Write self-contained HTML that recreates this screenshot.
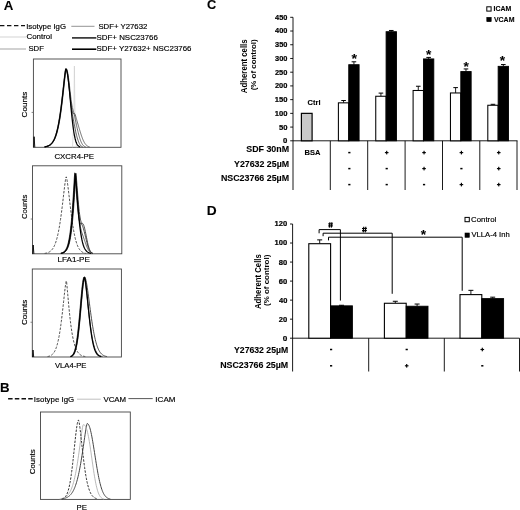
<!DOCTYPE html>
<html><head><meta charset="utf-8"><style>
html,body{margin:0;padding:0;background:#fff;width:520px;height:510px;overflow:hidden;}
body{position:relative;font-family:"Liberation Sans", sans-serif;}
</style></head><body>
<svg width="520" height="510" viewBox="0 0 520 510" style="position:absolute;left:0;top:0;filter:grayscale(1)">
<g style="font-family:'Liberation Sans', sans-serif">
<text x="3.67" y="9.80" font-size="12.5" font-weight="bold" fill="#000" stroke="#000" stroke-width="0.1" textLength="9.59" lengthAdjust="spacingAndGlyphs">A</text>
<path d="M0,25.6 L25,25.6" stroke="#111" stroke-width="1.4" fill="none" stroke-dasharray="4.4,2.6" stroke-linejoin="round" />
<text x="26.18" y="28.80" font-size="7.7" font-weight="normal" fill="#000" stroke="#000" stroke-width="0.17" textLength="39.82" lengthAdjust="spacingAndGlyphs">Isotype IgG</text>
<line x1="0.00" y1="37.00" x2="26.00" y2="37.00" stroke="#c8c8c8" stroke-width="0.8" />
<text x="26.50" y="39.40" font-size="7.7" font-weight="normal" fill="#000" stroke="#000" stroke-width="0.17" textLength="25.52" lengthAdjust="spacingAndGlyphs">Control</text>
<line x1="0.00" y1="49.00" x2="26.00" y2="49.00" stroke="#999" stroke-width="0.9" />
<text x="28.45" y="51.20" font-size="7.7" font-weight="normal" fill="#000" stroke="#000" stroke-width="0.17" textLength="15.46" lengthAdjust="spacingAndGlyphs">SDF</text>
<line x1="71.30" y1="26.30" x2="94.50" y2="26.30" stroke="#888" stroke-width="0.9" />
<text x="98.45" y="29.10" font-size="7.7" font-weight="normal" fill="#000" stroke="#000" stroke-width="0.17" textLength="48.85" lengthAdjust="spacingAndGlyphs">SDF+ Y27632</text>
<line x1="72.00" y1="37.90" x2="96.30" y2="37.90" stroke="#1a1a1a" stroke-width="1.5" />
<text x="96.54" y="40.00" font-size="7.7" font-weight="normal" fill="#000" stroke="#000" stroke-width="0.17" textLength="61.30" lengthAdjust="spacingAndGlyphs">SDF+ NSC23766</text>
<line x1="72.00" y1="49.20" x2="96.30" y2="49.20" stroke="#000" stroke-width="1.6" />
<text x="96.55" y="51.10" font-size="7.7" font-weight="normal" fill="#000" stroke="#000" stroke-width="0.17" textLength="94.90" lengthAdjust="spacingAndGlyphs">SDF+ Y27632+ NSC23766</text>
<rect x="33.40" y="59.00" width="87.60" height="88.30" fill="none" stroke="#444" stroke-width="0.9"/>
<line x1="31.60" y1="112.42" x2="33.40" y2="112.42" stroke="#666" stroke-width="0.8" />
<path d="M72.5,147.3 L73.8,120 L74.4,66 L75.0,120 L76.3,147.3" stroke="#d0d0d0" stroke-width="0.7" fill="none" stroke-linejoin="round" />
<path d="M44.49,146.83 L44.81,146.78 L45.14,146.72 L45.46,146.66 L45.79,146.58 L46.11,146.51 L46.44,146.42 L46.76,146.33 L47.09,146.22 L47.41,146.11 L47.74,145.98 L48.06,145.84 L48.38,145.69 L48.71,145.52 L49.03,145.34 L49.36,145.14 L49.68,144.92 L50.01,144.68 L50.33,144.42 L50.66,144.13 L50.98,143.82 L51.31,143.48 L51.63,143.11 L51.96,142.71 L52.28,142.28 L52.61,141.80 L52.93,141.29 L53.25,140.73 L53.58,140.13 L53.90,139.48 L54.23,138.78 L54.55,138.02 L54.88,137.21 L55.20,136.33 L55.53,135.39 L55.85,134.38 L56.18,133.29 L56.50,132.13 L56.83,130.89 L57.15,129.57 L57.47,128.16 L57.80,126.66 L58.12,125.06 L58.45,123.37 L58.77,121.58 L59.10,119.69 L59.42,117.70 L59.75,115.60 L60.07,113.40 L60.40,111.09 L60.72,108.69 L61.05,106.18 L61.37,103.58 L61.69,100.89 L62.02,98.12 L62.34,95.28 L62.67,92.38 L62.99,89.44 L63.32,86.48 L63.64,83.52 L63.97,80.60 L64.29,77.75 L64.62,75.04 L64.94,72.54 L65.27,70.38 L65.59,68.91 L65.91,69.08 L66.24,69.63 L66.56,70.55 L66.89,71.83 L67.21,73.43 L67.54,75.35 L67.86,77.55 L68.19,80.00 L68.51,82.66 L68.84,85.49 L69.16,88.43 L69.49,91.44 L69.81,94.46 L70.13,97.44 L70.46,100.31 L70.78,103.01 L71.11,105.48 L71.43,107.66 L71.76,109.51 L72.08,111.00 L72.41,112.11 L72.73,112.87 L73.06,113.31 L73.38,113.49 L73.71,113.50 L74.03,113.46 L74.35,113.48 L74.68,113.66 L75.00,114.12 L75.33,114.93 L75.65,116.09 L75.98,117.27 L76.30,118.43 L76.63,119.57 L76.95,120.70 L77.28,121.82 L77.60,122.93 L77.93,124.04 L78.25,125.15 L78.57,126.26 L78.90,127.37 L79.22,128.47 L79.55,129.57 L79.87,130.65 L80.20,131.72 L80.52,132.77 L80.85,133.80 L81.17,134.80 L81.50,135.77 L81.82,136.71 L82.15,137.60 L82.47,138.46 L82.79,139.27 L83.12,140.04 L83.44,140.76 L83.77,141.43 L84.09,142.06 L84.42,142.64 L84.74,143.17 L85.07,143.65 L85.39,144.10 L85.72,144.50 L86.04,144.86 L86.37,145.18 L86.69,145.47 L87.02,145.73 L87.34,145.95 L87.66,146.15 L87.99,146.32 L88.31,146.47 L88.64,146.61 L88.96,146.72 L89.29,146.81 L89.61,146.90" stroke="#333" stroke-width="0.7" fill="none" stroke-linejoin="round" />
<path d="M45.14,146.84 L45.46,146.79 L45.79,146.73 L46.11,146.67 L46.44,146.60 L46.76,146.52 L47.09,146.43 L47.41,146.34 L47.74,146.24 L48.06,146.12 L48.38,146.00 L48.71,145.86 L49.03,145.71 L49.36,145.55 L49.68,145.37 L50.01,145.17 L50.33,144.96 L50.66,144.72 L50.98,144.46 L51.31,144.18 L51.63,143.87 L51.96,143.54 L52.28,143.17 L52.61,142.78 L52.93,142.35 L53.25,141.88 L53.58,141.37 L53.90,140.82 L54.23,140.23 L54.55,139.59 L54.88,138.89 L55.20,138.15 L55.53,137.34 L55.85,136.47 L56.18,135.54 L56.50,134.54 L56.83,133.47 L57.15,132.32 L57.47,131.09 L57.80,129.78 L58.12,128.38 L58.45,126.90 L58.77,125.32 L59.10,123.64 L59.42,121.87 L59.75,119.99 L60.07,118.01 L60.40,115.93 L60.72,113.75 L61.05,111.46 L61.37,109.07 L61.69,106.58 L62.02,104.00 L62.34,101.32 L62.67,98.56 L62.99,95.73 L63.32,92.84 L63.64,89.91 L63.97,86.95 L64.29,83.98 L64.62,81.05 L64.94,78.19 L65.27,75.45 L65.59,72.91 L65.91,70.68 L66.24,69.05 L66.56,69.03 L66.89,69.55 L67.21,70.46 L67.54,71.74 L67.86,73.38 L68.19,75.33 L68.51,77.56 L68.84,80.04 L69.16,82.71 L69.49,85.52 L69.81,88.40 L70.13,91.30 L70.46,94.16 L70.78,96.92 L71.11,99.51 L71.43,101.90 L71.76,104.05 L72.08,105.94 L72.41,107.59 L72.73,109.01 L73.06,110.24 L73.38,111.36 L73.71,112.43 L74.03,113.54 L74.35,114.75 L74.68,116.13 L75.00,117.72 L75.33,119.40 L75.65,121.03 L75.98,122.62 L76.30,124.18 L76.63,125.70 L76.95,127.18 L77.28,128.63 L77.60,130.04 L77.93,131.41 L78.25,132.74 L78.57,134.01 L78.90,135.24 L79.22,136.41 L79.55,137.52 L79.87,138.56 L80.20,139.54 L80.52,140.45 L80.85,141.28 L81.17,142.05 L81.50,142.75 L81.82,143.38 L82.15,143.94 L82.47,144.44 L82.79,144.88 L83.12,145.27 L83.44,145.61 L83.77,145.90 L84.09,146.14 L84.42,146.36 L84.74,146.53 L85.07,146.68 L85.39,146.80 L85.72,146.90" stroke="#333" stroke-width="0.7" fill="none" stroke-linejoin="round" />
<path d="M44.49,146.87 L44.81,146.83 L45.14,146.77 L45.46,146.71 L45.79,146.65 L46.11,146.58 L46.44,146.50 L46.76,146.41 L47.09,146.32 L47.41,146.21 L47.74,146.10 L48.06,145.97 L48.38,145.83 L48.71,145.68 L49.03,145.51 L49.36,145.32 L49.68,145.12 L50.01,144.90 L50.33,144.66 L50.66,144.40 L50.98,144.11 L51.31,143.80 L51.63,143.46 L51.96,143.08 L52.28,142.68 L52.61,142.24 L52.93,141.77 L53.25,141.25 L53.58,140.69 L53.90,140.09 L54.23,139.43 L54.55,138.73 L54.88,137.96 L55.20,137.14 L55.53,136.26 L55.85,135.32 L56.18,134.30 L56.50,133.21 L56.83,132.04 L57.15,130.80 L57.47,129.46 L57.80,128.05 L58.12,126.54 L58.45,124.94 L58.77,123.24 L59.10,121.44 L59.42,119.54 L59.75,117.54 L60.07,115.44 L60.40,113.23 L60.72,110.91 L61.05,108.50 L61.37,105.99 L61.69,103.38 L62.02,100.69 L62.34,97.91 L62.67,95.07 L62.99,92.16 L63.32,89.22 L63.64,86.26 L63.97,83.30 L64.29,80.38 L64.62,77.54 L64.94,74.84 L65.27,72.36 L65.59,70.23 L65.91,68.90 L66.24,69.12 L66.56,69.76 L66.89,70.79 L67.21,72.21 L67.54,73.98 L67.86,76.08 L68.19,78.47 L68.51,81.10 L68.84,83.94 L69.16,86.93 L69.49,90.02 L69.81,93.15 L70.13,96.27 L70.46,99.33 L70.78,102.29 L71.11,105.10 L71.43,107.74 L71.76,110.19 L72.08,112.46 L72.41,114.54 L72.73,116.46 L73.06,118.26 L73.38,119.97 L73.71,121.64 L74.03,123.29 L74.35,124.97 L74.68,126.66 L75.00,128.30 L75.33,129.86 L75.65,131.35 L75.98,132.79 L76.30,134.16 L76.63,135.46 L76.95,136.70 L77.28,137.86 L77.60,138.96 L77.93,139.98 L78.25,140.92 L78.57,141.79 L78.90,142.57 L79.22,143.28 L79.55,143.91 L79.87,144.47 L80.20,144.95 L80.52,145.37 L80.85,145.73 L81.17,146.04 L81.50,146.29 L81.82,146.50 L82.15,146.67 L82.47,146.81 L82.79,146.93" stroke="#222" stroke-width="0.7" fill="none" stroke-linejoin="round" />
<path d="M44.49,146.87 L44.81,146.83 L45.14,146.77 L45.46,146.71 L45.79,146.65 L46.11,146.58 L46.44,146.50 L46.76,146.41 L47.09,146.32 L47.41,146.21 L47.74,146.10 L48.06,145.97 L48.38,145.83 L48.71,145.68 L49.03,145.51 L49.36,145.32 L49.68,145.12 L50.01,144.90 L50.33,144.66 L50.66,144.40 L50.98,144.11 L51.31,143.80 L51.63,143.46 L51.96,143.08 L52.28,142.68 L52.61,142.24 L52.93,141.77 L53.25,141.25 L53.58,140.69 L53.90,140.09 L54.23,139.43 L54.55,138.73 L54.88,137.96 L55.20,137.14 L55.53,136.26 L55.85,135.32 L56.18,134.30 L56.50,133.21 L56.83,132.04 L57.15,130.80 L57.47,129.46 L57.80,128.05 L58.12,126.54 L58.45,124.94 L58.77,123.24 L59.10,121.44 L59.42,119.54 L59.75,117.54 L60.07,115.44 L60.40,113.23 L60.72,110.91 L61.05,108.50 L61.37,105.99 L61.69,103.38 L62.02,100.69 L62.34,97.91 L62.67,95.07 L62.99,92.16 L63.32,89.22 L63.64,86.26 L63.97,83.30 L64.29,80.38 L64.62,77.54 L64.94,74.84 L65.27,72.36 L65.59,70.23 L65.91,68.90 L66.24,69.13 L66.56,69.79 L66.89,70.87 L67.21,72.34 L67.54,74.18 L67.86,76.37 L68.19,78.87 L68.51,81.65 L68.84,84.65 L69.16,87.85 L69.49,91.19 L69.81,94.63 L70.13,98.13 L70.46,101.65 L70.78,105.15 L71.11,108.59 L71.43,111.95 L71.76,115.19 L72.08,118.29 L72.41,121.24 L72.73,124.02 L73.06,126.61 L73.38,129.02 L73.71,131.23 L74.03,133.25 L74.35,135.09 L74.68,136.74 L75.00,138.22 L75.33,139.54 L75.65,140.70 L75.98,141.72 L76.30,142.60 L76.63,143.37 L76.95,144.03 L77.28,144.60 L77.60,145.07 L77.93,145.48 L78.25,145.82 L78.57,146.10 L78.90,146.33 L79.22,146.53 L79.55,146.68 L79.87,146.81 L80.20,146.92" stroke="#000" stroke-width="1.25" fill="none" stroke-linejoin="round" />
<path d="M33.699999999999996,147.3 L34.1,136.7 L34.8,147.3" stroke="#000" stroke-width="0.9" fill="none" stroke-linejoin="round" />
<text x="54.41" y="158.60" font-size="7.6" font-weight="normal" fill="#000" stroke="#000" stroke-width="0.17" textLength="39.67" lengthAdjust="spacingAndGlyphs">CXCR4-PE</text>
<text transform="translate(27.10,117.00) rotate(-90)" x="-0.41" y="0" font-size="7.7" font-weight="normal" fill="#000" stroke="#000" stroke-width="0.17" textLength="25.70" lengthAdjust="spacingAndGlyphs">Counts</text>
<rect x="32.50" y="165.80" width="89.30" height="88.00" fill="none" stroke="#444" stroke-width="0.9"/>
<line x1="30.70" y1="219.04" x2="32.50" y2="219.04" stroke="#666" stroke-width="0.8" />
<path d="M44.70,253.38 L45.03,253.33 L45.36,253.28 L45.69,253.22 L46.02,253.15 L46.35,253.08 L46.68,253.00 L47.01,252.90 L47.34,252.80 L47.67,252.69 L47.99,252.57 L48.32,252.43 L48.65,252.29 L48.98,252.12 L49.31,251.94 L49.64,251.74 L49.97,251.53 L50.30,251.29 L50.63,251.03 L50.96,250.74 L51.29,250.43 L51.62,250.09 L51.94,249.71 L52.27,249.31 L52.60,248.87 L52.93,248.39 L53.26,247.87 L53.59,247.30 L53.92,246.69 L54.25,246.03 L54.58,245.32 L54.91,244.54 L55.24,243.71 L55.57,242.82 L55.89,241.86 L56.22,240.82 L56.55,239.72 L56.88,238.53 L57.21,237.27 L57.54,235.92 L57.87,234.48 L58.20,232.96 L58.53,231.34 L58.86,229.63 L59.19,227.82 L59.52,225.91 L59.84,223.90 L60.17,221.80 L60.50,219.59 L60.83,217.29 L61.16,214.90 L61.49,212.42 L61.82,209.85 L62.15,207.21 L62.48,204.50 L62.81,201.74 L63.14,198.94 L63.46,196.11 L63.79,193.28 L64.12,190.48 L64.45,187.73 L64.78,185.07 L65.11,182.56 L65.44,180.26 L65.77,178.27 L66.10,176.82 L66.43,177.09 L66.76,178.47 L67.09,180.30 L67.41,182.46 L67.74,184.86 L68.07,187.43 L68.40,190.13 L68.73,192.92 L69.06,195.76 L69.39,198.63 L69.72,201.49 L70.05,204.34 L70.38,207.14 L70.71,209.88 L71.04,212.56 L71.36,215.16 L71.69,217.67 L72.02,220.09 L72.35,222.41 L72.68,224.62 L73.01,226.73 L73.34,228.74 L73.67,230.63 L74.00,232.42 L74.33,234.11 L74.66,235.69 L74.98,237.18 L75.31,238.56 L75.64,239.86 L75.97,241.06 L76.30,242.18 L76.63,243.21 L76.96,244.17 L77.29,245.05 L77.62,245.87 L77.95,246.62 L78.28,247.30 L78.61,247.93 L78.93,248.51 L79.26,249.03 L79.59,249.51 L79.92,249.95 L80.25,250.34 L80.58,250.70 L80.91,251.03 L81.24,251.32 L81.57,251.59 L81.90,251.83 L82.23,252.04 L82.56,252.24 L82.88,252.41 L83.21,252.57 L83.54,252.71 L83.87,252.83 L84.20,252.95 L84.53,253.05 L84.86,253.13 L85.19,253.21 L85.52,253.28 L85.85,253.35" stroke="#3a3a3a" stroke-width="0.9" fill="none" stroke-dasharray="2.5,1.4" stroke-linejoin="round" />
<path d="M60.30,253.36 L60.68,253.29 L61.06,253.20 L61.44,253.09 L61.82,252.96 L62.20,252.82 L62.58,252.65 L62.95,252.45 L63.33,252.22 L63.71,251.95 L64.09,251.63 L64.47,251.27 L64.85,250.85 L65.23,250.36 L65.61,249.80 L65.99,249.15 L66.37,248.41 L66.75,247.55 L67.13,246.57 L67.51,245.45 L67.89,244.16 L68.27,242.70 L68.65,241.03 L69.03,239.14 L69.40,237.00 L69.78,234.59 L70.16,231.87 L70.54,228.83 L70.92,225.43 L71.30,221.65 L71.68,217.46 L72.06,212.86 L72.44,207.83 L72.82,202.37 L73.20,196.53 L73.58,190.36 L73.96,184.00 L74.34,177.73 L74.72,172.82 L75.10,176.44 L75.47,181.14 L75.85,186.15 L76.23,191.19 L76.61,196.11 L76.99,200.78 L77.37,205.14 L77.75,209.11 L78.13,212.65 L78.51,215.72 L78.89,218.29 L79.27,220.35 L79.65,221.91 L80.03,222.99 L80.41,223.64 L80.79,223.92 L81.17,223.92 L81.55,223.76 L81.92,223.55 L82.30,223.41 L82.68,223.47 L83.06,223.82 L83.44,224.53 L83.82,225.55 L84.20,226.78 L84.58,228.20 L84.96,229.79 L85.34,231.53 L85.72,233.38 L86.10,235.29 L86.48,237.22 L86.86,239.13 L87.24,240.97 L87.62,242.73 L87.99,244.36 L88.37,245.85 L88.75,247.18 L89.13,248.36 L89.51,249.37 L89.89,250.24 L90.27,250.97 L90.65,251.57 L91.03,252.06 L91.41,252.45 L91.79,252.77 L92.17,253.01 L92.55,253.20 L92.93,253.34" stroke="#222" stroke-width="0.8" fill="none" stroke-linejoin="round" />
<path d="M61.44,253.38 L61.82,253.30 L62.20,253.21 L62.58,253.11 L62.95,252.98 L63.33,252.84 L63.71,252.68 L64.09,252.48 L64.47,252.26 L64.85,251.99 L65.23,251.69 L65.61,251.33 L65.99,250.92 L66.37,250.45 L66.75,249.90 L67.13,249.27 L67.51,248.54 L67.89,247.70 L68.27,246.74 L68.65,245.64 L69.03,244.38 L69.40,242.95 L69.78,241.32 L70.16,239.47 L70.54,237.37 L70.92,235.00 L71.30,232.34 L71.68,229.35 L72.06,226.01 L72.44,222.29 L72.82,218.17 L73.20,213.64 L73.58,208.67 L73.96,203.28 L74.34,197.49 L74.72,191.36 L75.10,185.00 L75.47,178.67 L75.85,173.10 L76.23,175.70 L76.61,180.36 L76.99,185.38 L77.37,190.43 L77.75,195.33 L78.13,199.96 L78.51,204.23 L78.89,208.10 L79.27,211.52 L79.65,214.49 L80.03,217.01 L80.41,219.10 L80.79,220.83 L81.17,222.23 L81.55,223.41 L81.92,224.44 L82.30,225.40 L82.68,226.39 L83.06,227.47 L83.44,228.71 L83.82,230.07 L84.20,231.49 L84.58,232.98 L84.96,234.52 L85.34,236.10 L85.72,237.70 L86.10,239.30 L86.48,240.87 L86.86,242.39 L87.24,243.85 L87.62,245.21 L87.99,246.46 L88.37,247.60 L88.75,248.61 L89.13,249.50 L89.51,250.28 L89.89,250.94 L90.27,251.49 L90.65,251.96 L91.03,252.34 L91.41,252.64 L91.79,252.89 L92.17,253.08 L92.55,253.24 L92.93,253.36" stroke="#222" stroke-width="0.8" fill="none" stroke-linejoin="round" />
<path d="M61.06,253.33 L61.44,253.25 L61.82,253.15 L62.20,253.04 L62.58,252.90 L62.95,252.75 L63.33,252.57 L63.71,252.35 L64.09,252.11 L64.47,251.82 L64.85,251.49 L65.23,251.10 L65.61,250.65 L65.99,250.14 L66.37,249.54 L66.75,248.85 L67.13,248.07 L67.51,247.16 L67.89,246.12 L68.27,244.93 L68.65,243.57 L69.03,242.03 L69.40,240.27 L69.78,238.28 L70.16,236.03 L70.54,233.49 L70.92,230.64 L71.30,227.45 L71.68,223.89 L72.06,219.95 L72.44,215.59 L72.82,210.80 L73.20,205.59 L73.58,199.97 L73.96,193.98 L74.34,187.71 L74.72,181.34 L75.10,175.30 L75.47,174.13 L75.85,178.52 L76.23,183.54 L76.61,188.74 L76.99,193.90 L77.37,198.89 L77.75,203.62 L78.13,208.04 L78.51,212.11 L78.89,215.79 L79.27,219.10 L79.65,222.01 L80.03,224.55 L80.41,226.75 L80.79,228.63 L81.17,230.23 L81.55,231.62 L81.92,232.84 L82.30,233.96 L82.68,235.02 L83.06,236.08 L83.44,237.16 L83.82,238.27 L84.20,239.37 L84.58,240.47 L84.96,241.56 L85.34,242.64 L85.72,243.71 L86.10,244.76 L86.48,245.77 L86.86,246.73 L87.24,247.64 L87.62,248.49 L87.99,249.26 L88.37,249.96 L88.75,250.58 L89.13,251.13 L89.51,251.60 L89.89,252.00 L90.27,252.34 L90.65,252.62 L91.03,252.86 L91.41,253.05 L91.79,253.20 L92.17,253.32" stroke="#222" stroke-width="0.7" fill="none" stroke-linejoin="round" />
<path d="M61.06,253.33 L61.44,253.25 L61.82,253.15 L62.20,253.04 L62.58,252.90 L62.95,252.75 L63.33,252.57 L63.71,252.35 L64.09,252.11 L64.47,251.82 L64.85,251.49 L65.23,251.10 L65.61,250.65 L65.99,250.14 L66.37,249.54 L66.75,248.85 L67.13,248.07 L67.51,247.16 L67.89,246.12 L68.27,244.93 L68.65,243.57 L69.03,242.03 L69.40,240.27 L69.78,238.28 L70.16,236.03 L70.54,233.49 L70.92,230.64 L71.30,227.45 L71.68,223.89 L72.06,219.95 L72.44,215.59 L72.82,210.80 L73.20,205.59 L73.58,199.97 L73.96,193.98 L74.34,187.72 L74.72,181.35 L75.10,175.33 L75.47,174.19 L75.85,178.64 L76.23,183.74 L76.61,189.03 L76.99,194.32 L77.37,199.46 L77.75,204.38 L78.13,209.05 L78.51,213.42 L78.89,217.48 L79.27,221.24 L79.65,224.69 L80.03,227.84 L80.41,230.71 L80.79,233.32 L81.17,235.67 L81.55,237.78 L81.92,239.68 L82.30,241.38 L82.68,242.89 L83.06,244.24 L83.44,245.43 L83.82,246.49 L84.20,247.42 L84.58,248.25 L84.96,248.97 L85.34,249.61 L85.72,250.17 L86.10,250.66 L86.48,251.08 L86.86,251.45 L87.24,251.78 L87.62,252.06 L87.99,252.30 L88.37,252.51 L88.75,252.70 L89.13,252.85 L89.51,252.99 L89.89,253.11 L90.27,253.21 L90.65,253.30 L91.03,253.37" stroke="#000" stroke-width="1.3" fill="none" stroke-linejoin="round" />
<path d="M32.8,253.8 L33.2,245 L33.9,253.8" stroke="#000" stroke-width="0.9" fill="none" stroke-linejoin="round" />
<text x="57.53" y="262.40" font-size="7.6" font-weight="normal" fill="#000" stroke="#000" stroke-width="0.17" textLength="32.41" lengthAdjust="spacingAndGlyphs">LFA1-PE</text>
<text transform="translate(27.10,218.60) rotate(-90)" x="-0.38" y="0" font-size="7.7" font-weight="normal" fill="#000" stroke="#000" stroke-width="0.17" textLength="24.26" lengthAdjust="spacingAndGlyphs">Counts</text>
<rect x="32.30" y="269.00" width="89.10" height="88.00" fill="none" stroke="#444" stroke-width="0.9"/>
<line x1="30.50" y1="322.24" x2="32.30" y2="322.24" stroke="#666" stroke-width="0.8" />
<path d="M47.61,356.56 L47.99,356.49 L48.37,356.41 L48.76,356.32 L49.14,356.21 L49.52,356.08 L49.90,355.94 L50.28,355.78 L50.66,355.59 L51.04,355.38 L51.42,355.14 L51.80,354.86 L52.18,354.55 L52.56,354.20 L52.94,353.81 L53.32,353.37 L53.70,352.87 L54.08,352.31 L54.46,351.69 L54.84,350.99 L55.22,350.21 L55.60,349.35 L55.98,348.40 L56.36,347.35 L56.74,346.19 L57.12,344.91 L57.50,343.52 L57.88,341.99 L58.27,340.33 L58.65,338.52 L59.03,336.57 L59.41,334.46 L59.79,332.20 L60.17,329.78 L60.55,327.19 L60.93,324.45 L61.31,321.56 L61.69,318.52 L62.07,315.34 L62.45,312.04 L62.83,308.64 L63.21,305.17 L63.59,301.65 L63.97,298.13 L64.35,294.65 L64.73,291.28 L65.11,288.09 L65.49,285.18 L65.87,282.71 L66.25,280.93 L66.63,282.35 L67.01,286.18 L67.39,290.40 L67.78,294.72 L68.16,299.03 L68.54,303.23 L68.92,307.29 L69.30,311.17 L69.68,314.85 L70.06,318.33 L70.44,321.59 L70.82,324.64 L71.20,327.48 L71.58,330.11 L71.96,332.55 L72.34,334.80 L72.72,336.88 L73.10,338.78 L73.48,340.53 L73.86,342.13 L74.24,343.58 L74.62,344.91 L75.00,346.12 L75.38,347.22 L75.76,348.22 L76.14,349.12 L76.52,349.94 L76.91,350.68 L77.29,351.35 L77.67,351.95 L78.05,352.49 L78.43,352.97 L78.81,353.41 L79.19,353.80 L79.57,354.16 L79.95,354.47 L80.33,354.75 L80.71,355.00 L81.09,355.23 L81.47,355.43 L81.85,355.61 L82.23,355.77 L82.61,355.91 L82.99,356.04 L83.37,356.15 L83.75,356.25 L84.13,356.34 L84.51,356.41 L84.89,356.48 L85.27,356.55" stroke="#3a3a3a" stroke-width="0.9" fill="none" stroke-dasharray="2.5,1.4" stroke-linejoin="round" />
<path d="M70.89,356.59 L71.31,356.46 L71.73,356.28 L72.15,356.05 L72.57,355.76 L73.00,355.39 L73.42,354.93 L73.84,354.36 L74.26,353.66 L74.68,352.81 L75.10,351.77 L75.52,350.54 L75.94,349.07 L76.36,347.35 L76.78,345.35 L77.20,343.05 L77.62,340.42 L78.04,337.47 L78.46,334.19 L78.88,330.57 L79.30,326.64 L79.73,322.42 L80.15,317.96 L80.57,313.31 L80.99,308.53 L81.41,303.72 L81.83,298.98 L82.25,294.39 L82.67,290.10 L83.09,286.21 L83.51,282.85 L83.93,280.15 L84.35,278.24 L84.77,277.27 L85.19,277.58 L85.61,278.77 L86.03,280.50 L86.45,282.62 L86.88,285.06 L87.30,287.75 L87.72,290.63 L88.14,293.65 L88.56,296.78 L88.98,299.96 L89.40,303.16 L89.82,306.37 L90.24,309.54 L90.66,312.65 L91.08,315.69 L91.50,318.64 L91.92,321.49 L92.34,324.22 L92.76,326.83 L93.18,329.30 L93.61,331.65 L94.03,333.85 L94.45,335.93 L94.87,337.86 L95.29,339.66 L95.71,341.33 L96.13,342.88 L96.55,344.30 L96.97,345.61 L97.39,346.81 L97.81,347.90 L98.23,348.90 L98.65,349.80 L99.07,350.61 L99.49,351.35 L99.91,352.01 L100.33,352.61 L100.76,353.14 L101.18,353.61 L101.60,354.04 L102.02,354.41 L102.44,354.75 L102.86,355.04 L103.28,355.30 L103.70,355.53 L104.12,355.73 L104.54,355.90 L104.96,356.05 L105.38,356.19 L105.80,356.30 L106.22,356.40 L106.64,356.49 L107.06,356.56" stroke="#222" stroke-width="0.8" fill="none" stroke-linejoin="round" />
<path d="M70.05,356.58 L70.47,356.43 L70.89,356.25 L71.31,356.01 L71.73,355.71 L72.15,355.34 L72.57,354.86 L73.00,354.28 L73.42,353.55 L73.84,352.67 L74.26,351.61 L74.68,350.35 L75.10,348.85 L75.52,347.09 L75.94,345.04 L76.36,342.70 L76.78,340.03 L77.20,337.03 L77.62,333.70 L78.04,330.04 L78.46,326.07 L78.88,321.81 L79.30,317.32 L79.73,312.64 L80.15,307.86 L80.57,303.05 L80.99,298.32 L81.41,293.77 L81.83,289.53 L82.25,285.70 L82.67,282.43 L83.09,279.83 L83.51,278.05 L83.93,277.22 L84.35,277.89 L84.77,279.63 L85.19,282.04 L85.61,284.94 L86.03,288.22 L86.45,291.76 L86.88,295.49 L87.30,299.32 L87.72,303.21 L88.14,307.09 L88.56,310.91 L88.98,314.64 L89.40,318.24 L89.82,321.70 L90.24,324.98 L90.66,328.08 L91.08,330.98 L91.50,333.69 L91.92,336.19 L92.34,338.50 L92.76,340.61 L93.18,342.54 L93.61,344.28 L94.03,345.85 L94.45,347.27 L94.87,348.53 L95.29,349.65 L95.71,350.65 L96.13,351.53 L96.55,352.30 L96.97,352.98 L97.39,353.57 L97.81,354.08 L98.23,354.52 L98.65,354.91 L99.07,355.23 L99.49,355.52 L99.91,355.76 L100.33,355.96 L100.76,356.13 L101.18,356.28 L101.60,356.40 L102.02,356.51 L102.44,356.59" stroke="#222" stroke-width="0.8" fill="none" stroke-linejoin="round" />
<path d="M70.47,356.60 L70.89,356.46 L71.31,356.29 L71.73,356.06 L72.15,355.78 L72.57,355.41 L73.00,354.96 L73.42,354.40 L73.84,353.70 L74.26,352.85 L74.68,351.83 L75.10,350.60 L75.52,349.15 L75.94,347.44 L76.36,345.45 L76.78,343.17 L77.20,340.56 L77.62,337.63 L78.04,334.35 L78.46,330.75 L78.88,326.84 L79.30,322.63 L79.73,318.18 L80.15,313.54 L80.57,308.77 L80.99,303.96 L81.41,299.21 L81.83,294.61 L82.25,290.30 L82.67,286.39 L83.09,283.00 L83.51,280.27 L83.93,278.32 L84.35,277.29 L84.77,277.73 L85.19,279.58 L85.61,282.25 L86.03,285.50 L86.45,289.17 L86.88,293.14 L87.30,297.30 L87.72,301.56 L88.14,305.83 L88.56,310.06 L88.98,314.18 L89.40,318.16 L89.82,321.95 L90.24,325.54 L90.66,328.90 L91.08,332.02 L91.50,334.91 L91.92,337.55 L92.34,339.95 L92.76,342.12 L93.18,344.07 L93.61,345.82 L94.03,347.37 L94.45,348.74 L94.87,349.94 L95.29,350.99 L95.71,351.91 L96.13,352.70 L96.55,353.38 L96.97,353.97 L97.39,354.47 L97.81,354.90 L98.23,355.26 L98.65,355.56 L99.07,355.82 L99.49,356.03 L99.91,356.21 L100.33,356.35 L100.76,356.48 L101.18,356.58" stroke="#000" stroke-width="1.3" fill="none" stroke-linejoin="round" />
<path d="M32.599999999999994,357 L33.0,350 L33.699999999999996,357" stroke="#000" stroke-width="0.9" fill="none" stroke-linejoin="round" />
<text x="54.96" y="367.70" font-size="7.6" font-weight="normal" fill="#000" stroke="#000" stroke-width="0.17" textLength="31.55" lengthAdjust="spacingAndGlyphs">VLA4-PE</text>
<text transform="translate(27.10,324.70) rotate(-90)" x="-0.40" y="0" font-size="7.7" font-weight="normal" fill="#000" stroke="#000" stroke-width="0.17" textLength="25.39" lengthAdjust="spacingAndGlyphs">Counts</text>
<text x="0.00" y="391.50" font-size="13.3" font-weight="bold" fill="#000" stroke="#000" stroke-width="0.1" textLength="9.59" lengthAdjust="spacingAndGlyphs">B</text>
<path d="M8.1,398.8 L33,398.8" stroke="#111" stroke-width="1.4" fill="none" stroke-dasharray="4.5,2.2" stroke-linejoin="round" />
<text x="33.87" y="401.60" font-size="7.7" font-weight="normal" fill="#000" stroke="#000" stroke-width="0.17" textLength="40.33" lengthAdjust="spacingAndGlyphs">Isotype IgG</text>
<line x1="77.00" y1="399.20" x2="100.70" y2="399.20" stroke="#b0b0b0" stroke-width="0.8" />
<text x="103.46" y="401.60" font-size="7.7" font-weight="normal" fill="#000" stroke="#000" stroke-width="0.17" textLength="22.70" lengthAdjust="spacingAndGlyphs">VCAM</text>
<line x1="128.40" y1="398.60" x2="152.70" y2="398.60" stroke="#444" stroke-width="0.9" />
<text x="155.36" y="401.60" font-size="7.7" font-weight="normal" fill="#000" stroke="#000" stroke-width="0.17" textLength="20.11" lengthAdjust="spacingAndGlyphs">ICAM</text>
<rect x="40.50" y="412.00" width="89.80" height="87.40" fill="none" stroke="#444" stroke-width="0.9"/>
<line x1="38.70" y1="464.88" x2="40.50" y2="464.88" stroke="#666" stroke-width="0.8" />
<path d="M61.40,498.96 L61.83,498.90 L62.26,498.84 L62.69,498.77 L63.12,498.69 L63.55,498.61 L63.98,498.51 L64.41,498.40 L64.84,498.28 L65.27,498.15 L65.70,498.00 L66.13,497.83 L66.56,497.65 L66.99,497.45 L67.42,497.22 L67.85,496.98 L68.28,496.70 L68.71,496.40 L69.14,496.07 L69.57,495.71 L70.00,495.31 L70.43,494.87 L70.86,494.39 L71.29,493.87 L71.72,493.30 L72.15,492.67 L72.58,491.99 L73.01,491.25 L73.43,490.45 L73.86,489.58 L74.29,488.64 L74.72,487.62 L75.15,486.52 L75.58,485.34 L76.01,484.06 L76.44,482.70 L76.87,481.23 L77.30,479.67 L77.73,478.00 L78.16,476.23 L78.59,474.34 L79.02,472.35 L79.45,470.24 L79.88,468.02 L80.31,465.68 L80.74,463.24 L81.17,460.69 L81.60,458.05 L82.03,455.30 L82.46,452.48 L82.89,449.58 L83.32,446.63 L83.75,443.65 L84.18,440.65 L84.61,437.67 L85.04,434.75 L85.46,431.93 L85.89,429.27 L86.32,426.85 L86.75,424.82 L87.18,423.51 L87.61,423.60 L88.04,423.92 L88.47,424.47 L88.90,425.27 L89.33,426.30 L89.76,427.56 L90.19,429.04 L90.62,430.73 L91.05,432.61 L91.48,434.67 L91.91,436.88 L92.34,439.24 L92.77,441.72 L93.20,444.29 L93.63,446.94 L94.06,449.65 L94.49,452.38 L94.92,455.14 L95.35,457.88 L95.78,460.60 L96.21,463.27 L96.64,465.89 L97.07,468.43 L97.49,470.89 L97.92,473.25 L98.35,475.51 L98.78,477.66 L99.21,479.68 L99.64,481.59 L100.07,483.37 L100.50,485.03 L100.93,486.57 L101.36,487.99 L101.79,489.29 L102.22,490.47 L102.65,491.55 L103.08,492.53 L103.51,493.40 L103.94,494.19 L104.37,494.89 L104.80,495.51 L105.23,496.06 L105.66,496.54 L106.09,496.96 L106.52,497.33 L106.95,497.65 L107.38,497.93 L107.81,498.17 L108.24,498.37 L108.67,498.54 L109.10,498.69 L109.53,498.81 L109.95,498.92 L110.38,499.00" stroke="#444" stroke-width="1.0" fill="none" stroke-linejoin="round" />
<path d="M59.69,498.96 L60.12,498.90 L60.55,498.83 L60.97,498.76 L61.40,498.67 L61.83,498.57 L62.26,498.46 L62.69,498.33 L63.12,498.19 L63.55,498.03 L63.98,497.85 L64.41,497.65 L64.84,497.43 L65.27,497.18 L65.70,496.91 L66.13,496.60 L66.56,496.26 L66.99,495.88 L67.42,495.46 L67.85,495.00 L68.28,494.48 L68.71,493.92 L69.14,493.29 L69.57,492.61 L70.00,491.85 L70.43,491.03 L70.86,490.13 L71.29,489.14 L71.72,488.07 L72.15,486.90 L72.58,485.63 L73.01,484.26 L73.43,482.78 L73.86,481.18 L74.29,479.47 L74.72,477.62 L75.15,475.65 L75.58,473.55 L76.01,471.32 L76.44,468.96 L76.87,466.46 L77.30,463.83 L77.73,461.08 L78.16,458.21 L78.59,455.23 L79.02,452.15 L79.45,449.00 L79.88,445.80 L80.31,442.57 L80.74,439.35 L81.17,436.18 L81.60,433.12 L82.03,430.25 L82.46,427.69 L82.89,425.60 L83.32,424.70 L83.75,424.75 L84.18,424.89 L84.61,425.18 L85.04,425.63 L85.46,426.26 L85.89,427.09 L86.32,428.14 L86.75,429.41 L87.18,430.89 L87.61,432.60 L88.04,434.53 L88.47,436.66 L88.90,438.98 L89.33,441.48 L89.76,444.14 L90.19,446.93 L90.62,449.83 L91.05,452.81 L91.48,455.84 L91.91,458.89 L92.34,461.94 L92.77,464.96 L93.20,467.92 L93.63,470.80 L94.06,473.57 L94.49,476.22 L94.92,478.73 L95.35,481.08 L95.78,483.28 L96.21,485.30 L96.64,487.16 L97.07,488.84 L97.49,490.36 L97.92,491.72 L98.35,492.91 L98.78,493.97 L99.21,494.88 L99.64,495.67 L100.07,496.35 L100.50,496.92 L100.93,497.40 L101.36,497.80 L101.79,498.13 L102.22,498.40 L102.65,498.62 L103.08,498.80 L103.51,498.94 L103.94,499.05" stroke="#b0b0b0" stroke-width="0.9" fill="none" stroke-linejoin="round" />
<path d="M61.83,498.96 L62.26,498.85 L62.69,498.70 L63.12,498.52 L63.55,498.31 L63.98,498.04 L64.41,497.72 L64.84,497.33 L65.27,496.86 L65.70,496.31 L66.13,495.65 L66.56,494.88 L66.99,493.98 L67.42,492.93 L67.85,491.72 L68.28,490.34 L68.71,488.76 L69.14,486.97 L69.57,484.97 L70.00,482.73 L70.43,480.26 L70.86,477.54 L71.29,474.58 L71.72,471.39 L72.15,467.97 L72.58,464.35 L73.01,460.54 L73.43,456.59 L73.86,452.53 L74.29,448.41 L74.72,444.29 L75.15,440.23 L75.58,436.31 L76.01,432.61 L76.44,429.20 L76.87,426.18 L77.30,423.63 L77.73,421.66 L78.16,420.39 L78.59,420.13 L79.02,421.78 L79.45,424.31 L79.88,427.39 L80.31,430.84 L80.74,434.53 L81.17,438.36 L81.60,442.26 L82.03,446.17 L82.46,450.02 L82.89,453.79 L83.32,457.44 L83.75,460.95 L84.18,464.29 L84.61,467.45 L85.04,470.43 L85.46,473.21 L85.89,475.80 L86.32,478.20 L86.75,480.42 L87.18,482.45 L87.61,484.30 L88.04,485.99 L88.47,487.53 L88.90,488.91 L89.33,490.16 L89.76,491.28 L90.19,492.28 L90.62,493.18 L91.05,493.97 L91.48,494.68 L91.91,495.30 L92.34,495.85 L92.77,496.33 L93.20,496.75 L93.63,497.12 L94.06,497.44 L94.49,497.72 L94.92,497.97 L95.35,498.18 L95.78,498.36 L96.21,498.51 L96.64,498.65 L97.07,498.76 L97.49,498.86 L97.92,498.95" stroke="#333" stroke-width="1.0" fill="none" stroke-dasharray="2.4,1.3" stroke-linejoin="round" />
<text x="76.46" y="509.60" font-size="7.8" font-weight="normal" fill="#000" stroke="#000" stroke-width="0.17" textLength="10.36" lengthAdjust="spacingAndGlyphs">PE</text>
<text transform="translate(35.00,473.80) rotate(-90)" x="-0.39" y="0" font-size="7.7" font-weight="normal" fill="#000" stroke="#000" stroke-width="0.17" textLength="24.88" lengthAdjust="spacingAndGlyphs">Counts</text>
<text x="206.99" y="9.30" font-size="13.5" font-weight="bold" fill="#000" stroke="#000" stroke-width="0.1" textLength="9.26" lengthAdjust="spacingAndGlyphs">C</text>
<line x1="293.00" y1="17.30" x2="293.00" y2="190.00" stroke="#000" stroke-width="0.9" />
<line x1="293.00" y1="140.80" x2="517.50" y2="140.80" stroke="#000" stroke-width="0.9" />
<line x1="290.20" y1="140.80" x2="293.00" y2="140.80" stroke="#000" stroke-width="0.9" />
<text x="283.09" y="143.25" font-size="6.9" font-weight="bold" fill="#000" stroke="#000" stroke-width="0.2" textLength="4.33" lengthAdjust="spacingAndGlyphs">0</text>
<line x1="290.20" y1="127.08" x2="293.00" y2="127.08" stroke="#000" stroke-width="0.9" />
<text x="278.95" y="129.53" font-size="6.9" font-weight="bold" fill="#000" stroke="#000" stroke-width="0.2" textLength="8.47" lengthAdjust="spacingAndGlyphs">50</text>
<line x1="290.20" y1="113.36" x2="293.00" y2="113.36" stroke="#000" stroke-width="0.9" />
<text x="274.72" y="115.81" font-size="6.9" font-weight="bold" fill="#000" stroke="#000" stroke-width="0.2" textLength="12.69" lengthAdjust="spacingAndGlyphs">100</text>
<line x1="290.20" y1="99.63" x2="293.00" y2="99.63" stroke="#000" stroke-width="0.9" />
<text x="274.72" y="102.08" font-size="6.9" font-weight="bold" fill="#000" stroke="#000" stroke-width="0.2" textLength="12.69" lengthAdjust="spacingAndGlyphs">150</text>
<line x1="290.20" y1="85.91" x2="293.00" y2="85.91" stroke="#000" stroke-width="0.9" />
<text x="274.94" y="88.36" font-size="6.9" font-weight="bold" fill="#000" stroke="#000" stroke-width="0.2" textLength="12.47" lengthAdjust="spacingAndGlyphs">200</text>
<line x1="290.20" y1="72.19" x2="293.00" y2="72.19" stroke="#000" stroke-width="0.9" />
<text x="274.94" y="74.64" font-size="6.9" font-weight="bold" fill="#000" stroke="#000" stroke-width="0.2" textLength="12.47" lengthAdjust="spacingAndGlyphs">250</text>
<line x1="290.20" y1="58.47" x2="293.00" y2="58.47" stroke="#000" stroke-width="0.9" />
<text x="275.03" y="60.92" font-size="6.9" font-weight="bold" fill="#000" stroke="#000" stroke-width="0.2" textLength="12.37" lengthAdjust="spacingAndGlyphs">300</text>
<line x1="290.20" y1="44.74" x2="293.00" y2="44.74" stroke="#000" stroke-width="0.9" />
<text x="275.03" y="47.19" font-size="6.9" font-weight="bold" fill="#000" stroke="#000" stroke-width="0.2" textLength="12.37" lengthAdjust="spacingAndGlyphs">350</text>
<line x1="290.20" y1="31.02" x2="293.00" y2="31.02" stroke="#000" stroke-width="0.9" />
<text x="275.09" y="33.47" font-size="6.9" font-weight="bold" fill="#000" stroke="#000" stroke-width="0.2" textLength="12.31" lengthAdjust="spacingAndGlyphs">400</text>
<line x1="290.20" y1="17.30" x2="293.00" y2="17.30" stroke="#000" stroke-width="0.9" />
<text x="275.09" y="19.75" font-size="6.9" font-weight="bold" fill="#000" stroke="#000" stroke-width="0.2" textLength="12.31" lengthAdjust="spacingAndGlyphs">450</text>
<text transform="translate(246.70,93.00) rotate(-90)" x="-0.20" y="0" font-size="8.2" font-weight="bold" fill="#000" textLength="53.82" lengthAdjust="spacingAndGlyphs">Adherent cells</text>
<text transform="translate(255.80,89.90) rotate(-90)" x="-0.40" y="0" font-size="8.0" font-weight="bold" fill="#000" textLength="51.00" lengthAdjust="spacingAndGlyphs">(% of control)</text>
<line x1="330.30" y1="140.80" x2="330.30" y2="190.00" stroke="#000" stroke-width="0.9" />
<line x1="367.70" y1="140.80" x2="367.70" y2="190.00" stroke="#000" stroke-width="0.9" />
<line x1="405.10" y1="140.80" x2="405.10" y2="190.00" stroke="#000" stroke-width="0.9" />
<line x1="442.50" y1="140.80" x2="442.50" y2="190.00" stroke="#000" stroke-width="0.9" />
<line x1="479.80" y1="140.80" x2="479.80" y2="190.00" stroke="#000" stroke-width="0.9" />
<line x1="517.00" y1="140.80" x2="517.00" y2="190.00" stroke="#000" stroke-width="0.9" />
<rect x="301.40" y="113.36" width="10.70" height="27.44" fill="#c8c8c8" stroke="#000" stroke-width="1.2"/>
<text x="307.60" y="105.40" font-size="7.8" font-weight="bold" fill="#000" stroke="#000" stroke-width="0.1" textLength="12.92" lengthAdjust="spacingAndGlyphs">Ctrl</text>
<line x1="343.57" y1="102.84" x2="343.57" y2="100.51" stroke="#000" stroke-width="0.9" />
<line x1="341.27" y1="100.51" x2="345.88" y2="100.51" stroke="#000" stroke-width="1.0" />
<line x1="353.93" y1="64.70" x2="353.93" y2="61.81" stroke="#000" stroke-width="0.9" />
<line x1="351.62" y1="61.81" x2="356.23" y2="61.81" stroke="#000" stroke-width="1.0" />
<rect x="338.40" y="102.84" width="10.35" height="37.96" fill="#fff" stroke="#000" stroke-width="1.05"/>
<rect x="348.75" y="64.70" width="10.35" height="76.10" fill="#000" stroke="#000" stroke-width="0.9"/>
<text x="351.46" y="62.58" font-size="13.5" font-weight="bold" fill="#000" stroke="#000" stroke-width="0.1" textLength="5.56" lengthAdjust="spacingAndGlyphs">*</text>
<rect x="348.25" y="151.85" width="2.20" height="1.50" fill="#000"/>
<rect x="348.25" y="167.85" width="2.20" height="1.50" fill="#000"/>
<rect x="348.25" y="183.85" width="2.20" height="1.50" fill="#000"/>
<line x1="380.93" y1="96.26" x2="380.93" y2="93.10" stroke="#000" stroke-width="0.9" />
<line x1="378.62" y1="93.10" x2="383.23" y2="93.10" stroke="#000" stroke-width="1.0" />
<line x1="391.28" y1="31.71" x2="391.28" y2="30.47" stroke="#000" stroke-width="0.9" />
<line x1="388.98" y1="30.47" x2="393.58" y2="30.47" stroke="#000" stroke-width="1.0" />
<rect x="375.75" y="96.26" width="10.35" height="44.54" fill="#fff" stroke="#000" stroke-width="1.05"/>
<rect x="386.10" y="31.71" width="10.35" height="109.09" fill="#000" stroke="#000" stroke-width="0.9"/>
<rect x="384.90" y="152.03" width="3.60" height="1.15" fill="#000"/>
<rect x="386.13" y="150.80" width="1.15" height="3.60" fill="#000"/>
<rect x="385.60" y="167.85" width="2.20" height="1.50" fill="#000"/>
<rect x="385.60" y="183.85" width="2.20" height="1.50" fill="#000"/>
<line x1="418.27" y1="90.49" x2="418.27" y2="86.24" stroke="#000" stroke-width="0.9" />
<line x1="415.97" y1="86.24" x2="420.57" y2="86.24" stroke="#000" stroke-width="1.0" />
<line x1="428.62" y1="58.93" x2="428.62" y2="57.42" stroke="#000" stroke-width="0.9" />
<line x1="426.32" y1="57.42" x2="430.93" y2="57.42" stroke="#000" stroke-width="1.0" />
<rect x="413.10" y="90.49" width="10.35" height="50.31" fill="#fff" stroke="#000" stroke-width="1.05"/>
<rect x="423.45" y="58.93" width="10.35" height="81.87" fill="#000" stroke="#000" stroke-width="0.9"/>
<text x="426.07" y="59.18" font-size="13.5" font-weight="bold" fill="#000" stroke="#000" stroke-width="0.1" textLength="5.36" lengthAdjust="spacingAndGlyphs">*</text>
<rect x="422.25" y="152.03" width="3.60" height="1.15" fill="#000"/>
<rect x="423.48" y="150.80" width="1.15" height="3.60" fill="#000"/>
<rect x="422.25" y="168.03" width="3.60" height="1.15" fill="#000"/>
<rect x="423.48" y="166.80" width="1.15" height="3.60" fill="#000"/>
<rect x="422.95" y="183.85" width="2.20" height="1.50" fill="#000"/>
<line x1="455.62" y1="92.96" x2="455.62" y2="87.61" stroke="#000" stroke-width="0.9" />
<line x1="453.32" y1="87.61" x2="457.93" y2="87.61" stroke="#000" stroke-width="1.0" />
<line x1="465.98" y1="71.56" x2="465.98" y2="68.95" stroke="#000" stroke-width="0.9" />
<line x1="463.68" y1="68.95" x2="468.28" y2="68.95" stroke="#000" stroke-width="1.0" />
<rect x="450.45" y="92.96" width="10.35" height="47.84" fill="#fff" stroke="#000" stroke-width="1.05"/>
<rect x="460.80" y="71.56" width="10.35" height="69.24" fill="#000" stroke="#000" stroke-width="0.9"/>
<text x="463.57" y="70.78" font-size="13.5" font-weight="bold" fill="#000" stroke="#000" stroke-width="0.1" textLength="5.36" lengthAdjust="spacingAndGlyphs">*</text>
<rect x="459.60" y="152.03" width="3.60" height="1.15" fill="#000"/>
<rect x="460.83" y="150.80" width="1.15" height="3.60" fill="#000"/>
<rect x="460.30" y="167.85" width="2.20" height="1.50" fill="#000"/>
<rect x="459.60" y="184.03" width="3.60" height="1.15" fill="#000"/>
<rect x="460.83" y="182.80" width="1.15" height="3.60" fill="#000"/>
<line x1="492.97" y1="105.26" x2="492.97" y2="104.30" stroke="#000" stroke-width="0.9" />
<line x1="490.67" y1="104.30" x2="495.27" y2="104.30" stroke="#000" stroke-width="1.0" />
<line x1="503.32" y1="66.34" x2="503.32" y2="64.56" stroke="#000" stroke-width="0.9" />
<line x1="501.02" y1="64.56" x2="505.62" y2="64.56" stroke="#000" stroke-width="1.0" />
<rect x="487.80" y="105.26" width="10.35" height="35.54" fill="#fff" stroke="#000" stroke-width="1.05"/>
<rect x="498.15" y="66.34" width="10.35" height="74.46" fill="#000" stroke="#000" stroke-width="0.9"/>
<text x="499.87" y="64.78" font-size="13.5" font-weight="bold" fill="#000" stroke="#000" stroke-width="0.1" textLength="5.36" lengthAdjust="spacingAndGlyphs">*</text>
<rect x="496.95" y="152.03" width="3.60" height="1.15" fill="#000"/>
<rect x="498.18" y="150.80" width="1.15" height="3.60" fill="#000"/>
<rect x="496.95" y="168.03" width="3.60" height="1.15" fill="#000"/>
<rect x="498.18" y="166.80" width="1.15" height="3.60" fill="#000"/>
<rect x="496.95" y="184.03" width="3.60" height="1.15" fill="#000"/>
<rect x="498.18" y="182.80" width="1.15" height="3.60" fill="#000"/>
<text x="304.59" y="154.70" font-size="8.0" font-weight="bold" fill="#000" stroke="#000" stroke-width="0.1" textLength="15.91" lengthAdjust="spacingAndGlyphs">BSA</text>
<text x="246.23" y="152.00" font-size="8.5" font-weight="bold" fill="#000" stroke="#000" stroke-width="0.1" textLength="42.88" lengthAdjust="spacingAndGlyphs">SDF 30nM</text>
<text x="234.05" y="166.50" font-size="8.5" font-weight="bold" fill="#000" stroke="#000" stroke-width="0.1" textLength="55.05" lengthAdjust="spacingAndGlyphs">Y27632 25µM</text>
<text x="220.90" y="180.80" font-size="8.5" font-weight="bold" fill="#000" stroke="#000" stroke-width="0.1" textLength="68.21" lengthAdjust="spacingAndGlyphs">NSC23766 25µM</text>
<rect x="486.80" y="6.80" width="4.30" height="4.30" fill="#fff" stroke="#000" stroke-width="1"/>
<text x="493.53" y="11.20" font-size="6.8" font-weight="bold" fill="#000" stroke="#000" stroke-width="0.1" textLength="17.74" lengthAdjust="spacingAndGlyphs">ICAM</text>
<rect x="486.80" y="17.30" width="4.40" height="4.40" fill="#000" stroke="#000" stroke-width="0.6"/>
<text x="493.95" y="22.00" font-size="6.8" font-weight="bold" fill="#000" stroke="#000" stroke-width="0.1" textLength="20.52" lengthAdjust="spacingAndGlyphs">VCAM</text>
<text x="206.77" y="214.80" font-size="13.3" font-weight="bold" fill="#000" stroke="#000" stroke-width="0.1" textLength="9.90" lengthAdjust="spacingAndGlyphs">D</text>
<line x1="292.60" y1="224.00" x2="292.60" y2="371.50" stroke="#000" stroke-width="0.9" />
<line x1="292.60" y1="338.20" x2="519.50" y2="338.20" stroke="#000" stroke-width="0.9" />
<line x1="290.00" y1="338.20" x2="292.60" y2="338.20" stroke="#000" stroke-width="0.9" />
<text x="282.77" y="340.65" font-size="6.9" font-weight="bold" fill="#000" stroke="#000" stroke-width="0.2" textLength="4.57" lengthAdjust="spacingAndGlyphs">0</text>
<line x1="290.00" y1="319.17" x2="292.60" y2="319.17" stroke="#000" stroke-width="0.9" />
<text x="278.83" y="321.62" font-size="6.9" font-weight="bold" fill="#000" stroke="#000" stroke-width="0.2" textLength="8.49" lengthAdjust="spacingAndGlyphs">20</text>
<line x1="290.00" y1="300.13" x2="292.60" y2="300.13" stroke="#000" stroke-width="0.9" />
<text x="278.99" y="302.58" font-size="6.9" font-weight="bold" fill="#000" stroke="#000" stroke-width="0.2" textLength="8.33" lengthAdjust="spacingAndGlyphs">40</text>
<line x1="290.00" y1="281.10" x2="292.60" y2="281.10" stroke="#000" stroke-width="0.9" />
<text x="278.81" y="283.55" font-size="6.9" font-weight="bold" fill="#000" stroke="#000" stroke-width="0.2" textLength="8.51" lengthAdjust="spacingAndGlyphs">60</text>
<line x1="290.00" y1="262.07" x2="292.60" y2="262.07" stroke="#000" stroke-width="0.9" />
<text x="278.85" y="264.52" font-size="6.9" font-weight="bold" fill="#000" stroke="#000" stroke-width="0.2" textLength="8.47" lengthAdjust="spacingAndGlyphs">80</text>
<line x1="290.00" y1="243.03" x2="292.60" y2="243.03" stroke="#000" stroke-width="0.9" />
<text x="274.62" y="245.48" font-size="6.9" font-weight="bold" fill="#000" stroke="#000" stroke-width="0.2" textLength="12.69" lengthAdjust="spacingAndGlyphs">100</text>
<line x1="290.00" y1="224.00" x2="292.60" y2="224.00" stroke="#000" stroke-width="0.9" />
<text x="274.62" y="226.45" font-size="6.9" font-weight="bold" fill="#000" stroke="#000" stroke-width="0.2" textLength="12.69" lengthAdjust="spacingAndGlyphs">120</text>
<text transform="translate(260.60,308.80) rotate(-90)" x="-0.19" y="0" font-size="8.2" font-weight="bold" fill="#000" textLength="54.82" lengthAdjust="spacingAndGlyphs">Adherent Cells</text>
<text transform="translate(269.10,305.60) rotate(-90)" x="-0.40" y="0" font-size="8.0" font-weight="bold" fill="#000" textLength="51.30" lengthAdjust="spacingAndGlyphs">(% of control)</text>
<line x1="368.70" y1="338.20" x2="368.70" y2="371.50" stroke="#000" stroke-width="0.9" />
<line x1="444.30" y1="338.20" x2="444.30" y2="371.50" stroke="#000" stroke-width="0.9" />
<line x1="519.50" y1="338.20" x2="519.50" y2="371.50" stroke="#000" stroke-width="0.9" />
<line x1="319.70" y1="243.70" x2="319.70" y2="239.89" stroke="#000" stroke-width="0.9" />
<line x1="317.20" y1="239.89" x2="322.20" y2="239.89" stroke="#000" stroke-width="1.0" />
<line x1="341.50" y1="305.84" x2="341.50" y2="305.27" stroke="#000" stroke-width="0.9" />
<line x1="339.00" y1="305.27" x2="344.00" y2="305.27" stroke="#000" stroke-width="1.0" />
<rect x="308.80" y="243.70" width="21.80" height="94.50" fill="#fff" stroke="#000" stroke-width="1.1"/>
<rect x="330.60" y="305.84" width="21.80" height="32.36" fill="#000" stroke="#000" stroke-width="0.9"/>
<rect x="330.00" y="348.75" width="2.20" height="1.50" fill="#000"/>
<rect x="330.00" y="365.05" width="2.20" height="1.50" fill="#000"/>
<line x1="395.30" y1="303.27" x2="395.30" y2="301.28" stroke="#000" stroke-width="0.9" />
<line x1="392.80" y1="301.28" x2="397.80" y2="301.28" stroke="#000" stroke-width="1.0" />
<line x1="417.10" y1="306.22" x2="417.10" y2="304.04" stroke="#000" stroke-width="0.9" />
<line x1="414.60" y1="304.04" x2="419.60" y2="304.04" stroke="#000" stroke-width="1.0" />
<rect x="384.40" y="303.27" width="21.80" height="34.93" fill="#fff" stroke="#000" stroke-width="1.1"/>
<rect x="406.20" y="306.22" width="21.80" height="31.98" fill="#000" stroke="#000" stroke-width="0.9"/>
<rect x="405.60" y="348.75" width="2.20" height="1.50" fill="#000"/>
<rect x="404.90" y="365.23" width="3.60" height="1.15" fill="#000"/>
<rect x="406.12" y="364.00" width="1.15" height="3.60" fill="#000"/>
<line x1="470.90" y1="294.61" x2="470.90" y2="290.33" stroke="#000" stroke-width="0.9" />
<line x1="468.40" y1="290.33" x2="473.40" y2="290.33" stroke="#000" stroke-width="1.0" />
<line x1="492.70" y1="298.61" x2="492.70" y2="297.18" stroke="#000" stroke-width="0.9" />
<line x1="490.20" y1="297.18" x2="495.20" y2="297.18" stroke="#000" stroke-width="1.0" />
<rect x="460.00" y="294.61" width="21.80" height="43.59" fill="#fff" stroke="#000" stroke-width="1.1"/>
<rect x="481.80" y="298.61" width="21.80" height="39.59" fill="#000" stroke="#000" stroke-width="0.9"/>
<rect x="480.50" y="348.93" width="3.60" height="1.15" fill="#000"/>
<rect x="481.73" y="347.70" width="1.15" height="3.60" fill="#000"/>
<rect x="481.20" y="365.05" width="2.20" height="1.50" fill="#000"/>
<text x="234.05" y="353.10" font-size="8.5" font-weight="bold" fill="#000" stroke="#000" stroke-width="0.1" textLength="54.13" lengthAdjust="spacingAndGlyphs">Y27632 25µM</text>
<text x="220.20" y="367.70" font-size="8.5" font-weight="bold" fill="#000" stroke="#000" stroke-width="0.1" textLength="68.01" lengthAdjust="spacingAndGlyphs">NSC23766 25µM</text>
<path d="M319.1,233.3 L319.1,229.6 L340.4,229.6 L340.4,300.6" stroke="#000" stroke-width="1.0" fill="none" stroke-linejoin="round" />
<path d="M323.1,236.2 L323.1,233.2 L392.2,233.2 L392.2,293.8" stroke="#000" stroke-width="1.0" fill="none" stroke-linejoin="round" />
<path d="M328.5,240.4 L328.5,237.2 L462.2,237.2 L462.2,290.8" stroke="#000" stroke-width="1.0" fill="none" stroke-linejoin="round" />
<line x1="329.91" y1="222.30" x2="329.32" y2="227.60" stroke="#000" stroke-width="1.15" />
<line x1="331.87" y1="222.30" x2="331.28" y2="227.60" stroke="#000" stroke-width="1.15" />
<line x1="328.20" y1="223.89" x2="332.90" y2="223.89" stroke="#000" stroke-width="1.1" />
<line x1="328.20" y1="225.90" x2="332.90" y2="225.90" stroke="#000" stroke-width="1.1" />
<line x1="363.79" y1="226.80" x2="363.18" y2="232.40" stroke="#000" stroke-width="1.15" />
<line x1="365.83" y1="226.80" x2="365.22" y2="232.40" stroke="#000" stroke-width="1.15" />
<line x1="362.00" y1="228.48" x2="366.90" y2="228.48" stroke="#000" stroke-width="1.1" />
<line x1="362.00" y1="230.61" x2="366.90" y2="230.61" stroke="#000" stroke-width="1.1" />
<text x="420.87" y="239.48" font-size="13.5" font-weight="bold" fill="#000" stroke="#000" stroke-width="0.1" textLength="5.36" lengthAdjust="spacingAndGlyphs">*</text>
<rect x="465.00" y="217.40" width="4.30" height="4.30" fill="#fff" stroke="#000" stroke-width="1"/>
<text x="471.11" y="221.80" font-size="7.5" font-weight="normal" fill="#000" stroke="#000" stroke-width="0.17" textLength="25.21" lengthAdjust="spacingAndGlyphs">Control</text>
<rect x="465.00" y="233.00" width="4.30" height="4.30" fill="#000" stroke="#000" stroke-width="0.6"/>
<text x="471.46" y="237.30" font-size="7.5" font-weight="normal" fill="#000" stroke="#000" stroke-width="0.17" textLength="38.24" lengthAdjust="spacingAndGlyphs">VLLA-4 Inh</text>
</g></svg>
</body></html>
